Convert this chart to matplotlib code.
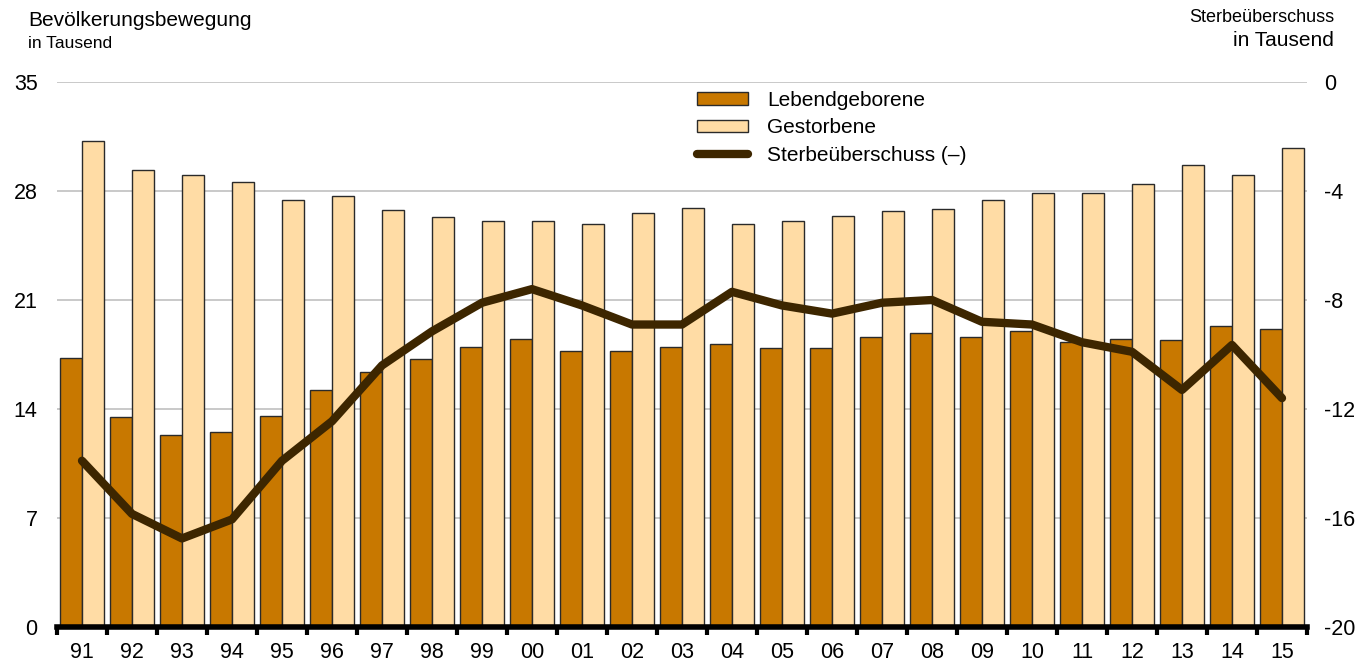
import matplotlib.pyplot as plt
import numpy as np

plt.rcParams['font.family'] = ['Liberation Sans', 'DejaVu Sans']

# Jahre (Kurzform) und Werte in Tausend
jahre = ['91', '92', '93', '94', '95', '96', '97', '98', '99', '00', '01', '02',
         '03', '04', '05', '06', '07', '08', '09', '10', '11', '12', '13', '14', '15']
lebendgeborene = [17.3, 13.5, 12.3, 12.5, 13.55, 15.2, 16.4, 17.2, 17.95, 18.5, 17.7, 17.7,
                  18.0, 18.2, 17.9, 17.9, 18.6, 18.9, 18.6, 19.0, 18.3, 18.5, 18.4, 19.35, 19.15]
gestorbene = [31.2, 29.35, 29.05, 28.55, 27.45, 27.65, 26.8, 26.35, 26.05, 26.1, 25.9, 26.6,
              26.9, 25.9, 26.1, 26.4, 26.7, 26.85, 27.4, 27.9, 27.85, 28.45, 29.7, 29.0, 30.75]
sterbeueberschuss = [-13.9, -15.85, -16.75, -16.05, -13.9, -12.45, -10.4, -9.15, -8.1, -7.6,
                     -8.2, -8.9, -8.9, -7.7, -8.2, -8.5, -8.1, -8.0, -8.8, -8.9,
                     -9.55, -9.9, -11.3, -9.65, -11.6]

col_leb = '#c87800'
col_gest = '#ffdca5'
col_line = '#3d2600'

fig = plt.figure(figsize=(13.7, 6.61), dpi=100)
ax = fig.add_axes([57 / 1370, 1 - 627 / 661, 1250 / 1370, 545 / 661])
x = np.arange(len(jahre))
w = 0.44

ax.bar(x, lebendgeborene, width=-w, align='edge', color=col_leb,
       edgecolor='#2a2a2a', linewidth=1, zorder=2, label='Lebendgeborene')
ax.bar(x, gestorbene, width=w, align='edge', color=col_gest,
       edgecolor='#2a2a2a', linewidth=1, zorder=2, label='Gestorbene')

ax.set_xlim(-0.5, len(jahre) - 0.5)
ax.set_ylim(0, 35)
ax.set_yticks(np.arange(0, 36, 7))
ax.grid(axis='y', color='#c0c0c0', linewidth=1.2, zorder=0)
ax.set_axisbelow(True)
for s in ['top', 'left', 'right']:
    ax.spines[s].set_visible(False)
ax.spines['bottom'].set_linewidth(4)
ax.spines['bottom'].set_zorder(4)

ax.set_xticks(x)
ax.set_xticklabels(jahre, fontsize=15.5)
ax.set_xticks(np.arange(-0.5, len(jahre), 1), minor=True)
ax.tick_params(axis='x', which='major', length=0, pad=11)
ax.tick_params(axis='x', which='minor', length=6, width=3, direction='out')
ax.tick_params(axis='y', length=0, labelsize=15.5, pad=14)

ax2 = ax.twinx()
ax2.plot(x, sterbeueberschuss, color=col_line, linewidth=6, solid_capstyle='round',
         solid_joinstyle='round', zorder=5, label='Sterbeüberschuss (–)')
ax2.set_ylim(-20, 0)
ax2.set_yticks(np.arange(-20, 1, 4))
ax2.set_yticklabels([str(v) for v in range(-20, 1, 4)])
for s in ['top', 'left', 'right', 'bottom']:
    ax2.spines[s].set_visible(False)
ax2.tick_params(axis='y', length=0, labelsize=15.5, pad=12)

h1, l1 = ax.get_legend_handles_labels()
h2, l2 = ax2.get_legend_handles_labels()
ax2.legend(h1 + h2, l1 + l2, loc='upper left', bbox_to_anchor=(0.503, 1.005),
           frameon=False, fontsize=15, handlelength=2.45, handleheight=0.55,
           labelspacing=0.42, handletextpad=0.9, borderaxespad=0.15)

fig.text(28 / 1370, 1 - 20 / 661, 'Bevölkerungsbewegung', fontsize=15, va='center', ha='left')
fig.text(28 / 1370, 1 - 43 / 661, 'in Tausend', fontsize=12.5, va='center', ha='left')
fig.text(1334 / 1370, 1 - 18 / 661, 'Sterbeüberschuss', fontsize=13, va='center', ha='right')
fig.text(1334 / 1370, 1 - 41 / 661, 'in Tausend', fontsize=15, va='center', ha='right')

fig.savefig('out.png', dpi=100)
